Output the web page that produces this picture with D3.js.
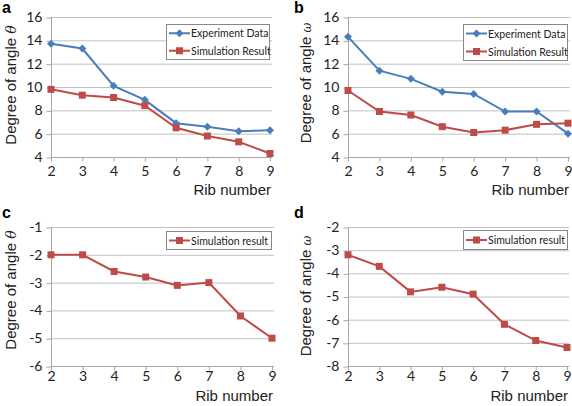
<!DOCTYPE html>
<html><head><meta charset="utf-8">
<script src="https://cdn.jsdelivr.net/npm/d3@7"></script>
<style>body{margin:0;background:#fff}svg{display:block}</style>
</head><body>
<svg id="c" width="572" height="406"></svg>
<script>
const ribs = [2,3,4,5,6,7,8,9];
const aExperiment = [13.7,13.3,10.1,8.9,6.9,6.6,6.2,6.3];
const aSimulation = [9.8,9.3,9.1,8.4,6.5,5.8,5.3,4.3];
const bExperiment = [14.3,11.4,10.7,9.6,9.4,7.9,7.9,6.0];
const bSimulation = [9.7,7.9,7.6,6.6,6.1,6.3,6.8,6.9];
const cSimulation = [-2,-2,-2.6,-2.8,-3.1,-3.0,-4.2,-5.0];
const dSimulation = [-3.2,-3.7,-4.8,-4.6,-4.9,-6.2,-6.9,-7.2];
const abTicks = [4,6,8,10,12,14,16];
const cTicks = [-6,-5,-4,-3,-2,-1];
const dTicks = [-8,-7,-6,-5,-4,-3,-2];
const expLabel = "Experiment Data", simLabelAB = "Simulation Result", simLabelCD = "Simulation result";

const BLUE = "#4A7EBB", RED = "#BE4B48";
const svg = d3.select("#c");

const panels = [
  {letter:"a", lx:2, ly:13, x0:51, x1:270, y0:157, y1:17, dom:[4,16], ticks:abTicks, sym:"θ", tx:11, ty:85, td:38, tp:5,
   series:[{v:aExperiment,c:BLUE,m:"diamond",name:expLabel},{v:aSimulation,c:RED,m:"square",name:simLabelAB}],
   leg:{x:166,y:24,w:104,h:35}},
  {letter:"b", lx:294, ly:13, x0:348, x1:568, y0:157, y1:17, dom:[4,16], ticks:abTicks, sym:"ω", tx:306, ty:83, td:38, tp:5,
   series:[{v:bExperiment,c:BLUE,m:"diamond",name:expLabel},{v:bSimulation,c:RED,m:"square",name:simLabelAB}],
   leg:{x:463,y:24,w:105,h:36}},
  {letter:"c", lx:2, ly:218, x0:51, x1:272, y0:366, y1:227, dom:[-6,-1], ticks:cTicks, sym:"θ", tx:11, ty:290, td:35, tp:1,
   series:[{v:cSimulation,c:RED,m:"square",name:simLabelCD}],
   leg:{x:166,y:231,w:106,h:18}},
  {letter:"d", lx:294, ly:218, x0:348, x1:567, y0:366, y1:227, dom:[-8,-2], ticks:dTicks, sym:"ω", tx:306, ty:296, td:35, tp:1,
   series:[{v:dSimulation,c:RED,m:"square",name:simLabelCD}],
   leg:{x:463,y:230,w:105,h:19}}
];

function marker(g, type, x, y, color){
  if(type==="square"){
    g.append("rect").attr("x",x-3.5).attr("y",y-3.5).attr("width",7).attr("height",7).attr("fill",color);
  } else {
    g.append("path").attr("d",`M${x},${y-4}L${x+4},${y}L${x},${y+4}L${x-4},${y}Z`).attr("fill",color);
  }
}

const TICKFONT = "Lato, 'Liberation Sans', Arial, sans-serif";

panels.forEach(p=>{
  const g = svg.append("g");
  const x = d3.scalePoint().domain(ribs).range([p.x0,p.x1]);
  const y = d3.scaleLinear().domain(p.dom).range([p.y0,p.y1]);

  // gridlines
  g.append("g").selectAll("line").data(p.ticks.slice(1)).join("line")
    .attr("x1",p.x0).attr("x2",p.x1+2).attr("y1",d=>y(d)+0.5).attr("y2",d=>y(d)+0.5)
    .attr("stroke","#c0c0c0").attr("stroke-width",1);

  // y axis
  const ya = g.append("g").attr("transform",`translate(${p.x0+0.5},0)`)
    .call(d3.axisLeft(y).tickValues(p.ticks).tickSize(5).tickPadding(4).tickFormat(d=>String(d)));
  ya.select(".domain").remove();
  ya.append("line").attr("x1",0).attr("x2",0).attr("y1",p.y1).attr("y2",p.y0).attr("stroke","#a6a6a6");
  ya.selectAll(".tick line").attr("stroke","#a6a6a6").attr("transform","translate(0,0.5)");
  ya.selectAll(".tick text").attr("font-family",TICKFONT).attr("font-size",14).attr("fill","#222");

  // x axis
  const xa = g.append("g").attr("transform",`translate(0,${p.y0+0.5})`)
    .call(d3.axisBottom(x).tickSize(4).tickPadding(p.tp).tickFormat(d=>String(d)));
  xa.select(".domain").remove();
  xa.append("line").attr("x1",p.x0).attr("x2",p.x1+2).attr("y1",0).attr("y2",0).attr("stroke","#a6a6a6");
  xa.selectAll(".tick line").attr("stroke","#a6a6a6");
  xa.selectAll(".tick text").attr("font-family",TICKFONT).attr("font-size",14).attr("fill","#222");

  // x title
  g.append("text").attr("x",p.x1+1).attr("y",p.y0+p.td).attr("text-anchor","end")
    .attr("font-family","'Liberation Sans', Arial, sans-serif").attr("font-size",15).attr("fill","#222")
    .text("Rib number");

  // y title
  const yt = g.append("text").attr("transform",`translate(${p.tx+5},${p.ty}) rotate(-90)`).attr("text-anchor","middle")
    .attr("font-family","'Liberation Sans', Arial, sans-serif").attr("font-size",15).attr("fill","#222");
  yt.append("tspan").text("Degree of angle ");
  yt.append("tspan").attr("font-family","'DejaVu Serif', 'Liberation Serif', serif").attr("font-style","italic")
    .attr("font-size",p.sym==="ω"?12:14).text(p.sym);

  // panel letter
  g.append("text").attr("x",p.lx).attr("y",p.ly).attr("font-family","'Liberation Sans', Arial, sans-serif")
    .attr("font-weight","bold").attr("font-size",16).attr("fill","#000").text(p.letter);

  // series
  const line = d3.line().x((d,i)=>x(ribs[i])).y(d=>y(d));
  p.series.forEach(s=>{
    g.append("path").datum(s.v).attr("d",line).attr("fill","none").attr("stroke",s.c).attr("stroke-width",2);
    s.v.forEach((v,i)=>marker(g,s.m,x(ribs[i]),y(v),s.c));
  });

  // legend
  const L = p.leg;
  g.append("rect").attr("x",L.x+0.5).attr("y",L.y+0.5).attr("width",L.w-1).attr("height",L.h)
    .attr("fill","#fff").attr("stroke","#888").attr("stroke-width",1);
  const n = p.series.length;
  p.series.forEach((s,i)=>{
    const cy = L.y + L.h*(i+0.5)/n + 0.5;
    g.append("line").attr("x1",L.x+3).attr("x2",L.x+24).attr("y1",cy).attr("y2",cy).attr("stroke",s.c).attr("stroke-width",2);
    marker(g,s.m,L.x+13.5,cy,s.c);
    g.append("text").attr("x",L.x+25).attr("y",cy+4).attr("font-family",TICKFONT)
      .attr("font-size",10.5).attr("fill","#222").text(s.name);
  });
});
</script>
</body></html>
